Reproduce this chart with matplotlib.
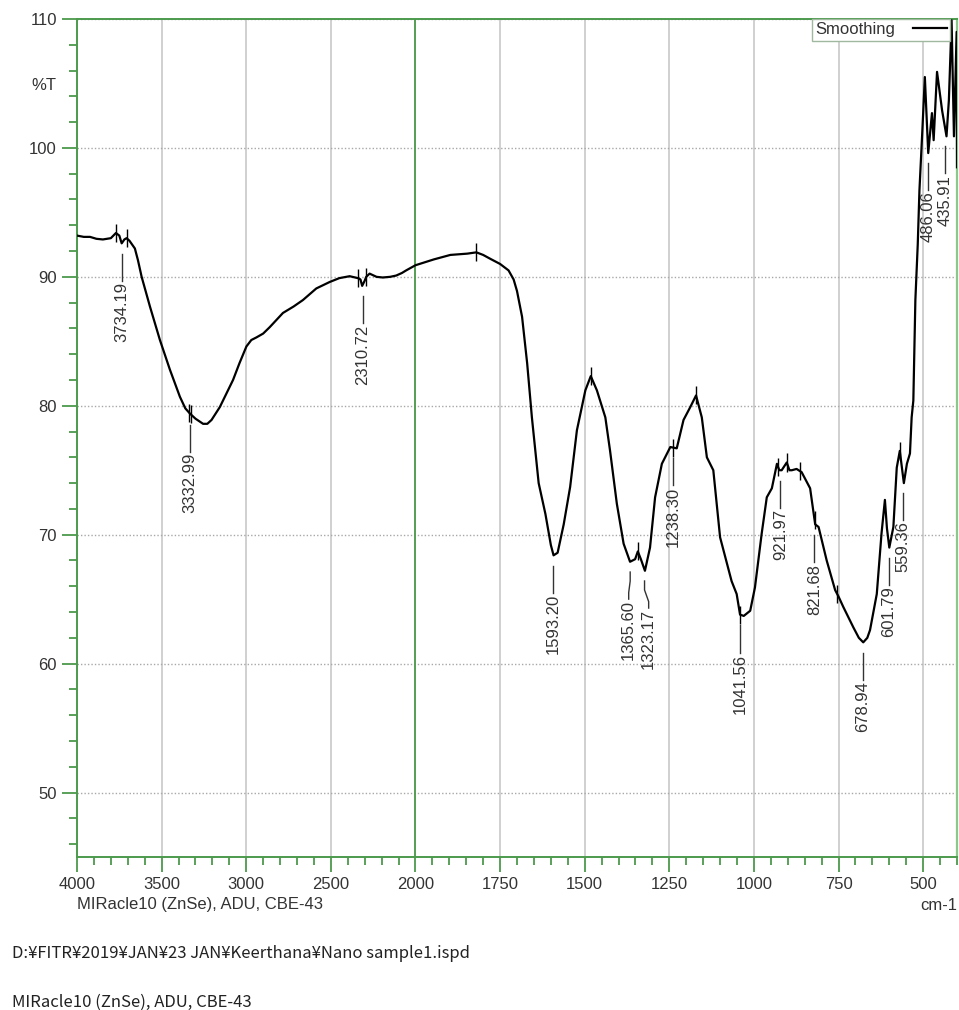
import numpy as np
import matplotlib.pyplot as plt
from matplotlib.ticker import FixedLocator, NullFormatter

plt.rcParams['font.family'] = ['Liberation Sans', 'DejaVu Sans']

# spectre IR lissé : nombre d'onde (cm-1) et transmittance (%T)
wn = np.array([4000, 3960, 3923, 3885, 3847, 3800, 3770, 3750, 3736, 3720, 3707, 3690,
               3658, 3640, 3618, 3569, 3510, 3451, 3392, 3360, 3333, 3300, 3255, 3230,
               3205, 3156, 3078, 3040, 2999, 2970, 2940, 2900, 2861, 2783, 2720, 2665,
               2586, 2507, 2450, 2389, 2340, 2325, 2315, 2300, 2291, 2271, 2230, 2193,
               2150, 2114, 2080, 2055, 2000, 1946, 1897, 1847, 1820, 1800, 1779, 1750,
               1725, 1710, 1700, 1685, 1670, 1656, 1636, 1616, 1600, 1592, 1580, 1562,
               1543, 1523, 1498, 1482, 1464, 1439, 1425, 1405, 1385, 1366, 1351, 1343,
               1334, 1322, 1307, 1292, 1272, 1247, 1228, 1208, 1188, 1171, 1154, 1139,
               1120, 1100, 1066, 1051, 1041, 1030, 1011, 997, 977, 962, 947, 932,
               925, 918, 903, 895, 888, 874, 859, 834, 819, 809, 785, 760,
               750, 736, 706, 690, 677, 665, 657, 637, 623, 613, 607, 600,
               588, 578, 569, 557, 548, 539, 534, 529, 523, 516, 511, 503,
               495, 485, 474, 469, 459, 444, 431, 424, 416, 409, 401, 400])
tr = np.array([93.2, 93.1, 93.1, 92.95, 92.9, 93.0, 93.4, 93.2, 92.6, 92.9, 93.0, 92.8,
               92.2, 91.3, 90.0, 87.7, 85.1, 82.8, 80.7, 79.8, 79.4, 79.0, 78.6, 78.6,
               78.9, 79.9, 82.0, 83.3, 84.6, 85.1, 85.3, 85.6, 86.1, 87.2, 87.7, 88.2,
               89.1, 89.6, 89.9, 90.05, 89.9, 89.8, 89.3, 89.7, 90.0, 90.25, 90.0, 89.95,
               90.0, 90.1, 90.3, 90.5, 90.9, 91.35, 91.7, 91.8, 91.9, 91.7, 91.4, 91.0,
               90.5, 89.8, 88.9, 86.9, 83.3, 79.1, 74.0, 71.6, 69.2, 68.4, 68.6, 70.8,
               73.7, 78.1, 81.2, 82.3, 81.2, 79.1, 76.5, 72.4, 69.3, 67.9, 68.1, 68.7,
               68.1, 67.2, 69.0, 72.9, 75.5, 76.8, 76.7, 78.9, 79.9, 80.8, 79.1, 76.0,
               75.0, 69.8, 66.4, 65.4, 63.8, 63.7, 64.1, 65.9, 70.1, 72.9, 73.6, 75.5,
               75.0, 75.0, 75.6, 75.0, 75.0, 75.1, 74.85, 73.6, 70.8, 70.6, 68.0, 65.7,
               65.2, 64.4, 62.8, 62.0, 61.65, 62.0, 62.6, 65.4, 70.1, 72.7, 70.5, 69.0,
               70.6, 75.2, 76.5, 74.0, 75.5, 76.3, 79.1, 80.4, 88.2, 92.5, 96.7, 101.0,
               105.5, 99.6, 102.7, 100.6, 105.9, 102.9, 100.9, 103.7, 109.9, 100.9, 109.0, 98.5])

# pics annotés et petits repères verticaux
pics = [3734.19, 3332.99, 2310.72, 1593.20, 1365.60, 1323.17, 1238.30, 1041.56,
        921.97, 821.68, 678.94, 601.79, 559.36, 486.06, 435.91]
reperes = [3770, 3707, 3338, 3328, 2340, 2291, 1820, 1482, 1343, 1238, 1171,
           1041, 929, 903, 864, 821, 754, 569]

ticks_maj = [4000, 3500, 3000, 2500, 2000, 1750, 1500, 1250, 1000, 750, 500]
ticks_min = list(range(4000, 2000, -100)) + list(range(2000, 399, -50))

vert = '#4c9a4c'
gris = '#333333'


# échelle dilatée x2 en dessous de 2000 cm-1
def fwd(x):
    x = np.asarray(x, dtype=float)
    return np.where(x >= 2000, 2000 + (x - 2000) / 2, x)


def inv(y):
    y = np.asarray(y, dtype=float)
    return np.where(y >= 2000, 2000 + 2 * (y - 2000), y)


W, H = 959, 1010
fig = plt.figure(figsize=(W / 100, H / 100), dpi=100)
ax = fig.add_axes([77 / W, 1 - 857 / H, 880 / W, 838 / H])
ax.set_xscale('function', functions=(fwd, inv))
ax.set_xlim(4000, 400)
ax.set_ylim(45, 110)

ax.plot(wn, tr, color='black', lw=1.6, label='Smoothing', zorder=3)

# repères sur la courbe
x_inc, y_inc = wn[::-1], tr[::-1]
for m in reperes:
    y = np.interp(m, x_inc, y_inc)
    ax.vlines(m, y - 0.7, y + 0.7, color='black', lw=1, zorder=3)

# étiquettes des pics, verticales, avec trait de rappel
decal = {1365.60: 1370.0, 1323.17: 1311.0}
for p in pics:
    fen = np.linspace(p - 5, p + 5, 41)
    y0 = np.interp(fen, x_inc, y_inc).min() - 0.8
    y1 = y0 - 2.1
    xt = decal.get(p, p)
    if xt != p:
        ax.plot([p, p, xt, xt], [y0, y0 - 0.7, y1 + 0.5, y1], color=gris, lw=1, zorder=3)
    else:
        ax.plot([p, p], [y0, y1], color=gris, lw=1, zorder=3)
    ax.text(xt, y1 - 0.1, f'{p:.2f}', rotation=90, ha='center', va='top',
            fontsize=12, color=gris, zorder=4)

# grilles
ax.set_axisbelow(True)
ax.xaxis.set_major_locator(FixedLocator(ticks_maj))
ax.xaxis.set_minor_locator(FixedLocator(ticks_min))
ax.xaxis.set_minor_formatter(NullFormatter())
ax.set_xticklabels([str(t) for t in ticks_maj])
ax.yaxis.set_major_locator(FixedLocator(np.arange(50, 111, 10)))
ax.yaxis.set_minor_locator(FixedLocator(np.arange(46, 110, 2)))
ax.xaxis.grid(True, color='#c8c8c8', lw=1.2, ls='-')
ax.yaxis.grid(True, color='#a8a8a8', lw=1, ls=(0, (1, 1.5)))
ax.axvline(2000, color=vert, lw=1.3, zorder=2)

for s in ['left', 'bottom', 'top']:
    ax.spines[s].set_color(vert)
    ax.spines[s].set_linewidth(1.4)
ax.spines['right'].set_color('#8cc88c')
ax.spines['right'].set_linewidth(1.6)

ax.tick_params(which='major', length=11, width=1.3, color=vert, pad=3.5,
               labelsize=12, labelcolor=gris)
ax.tick_params(which='minor', length=6, width=1.3, color=vert)

leg = ax.legend(loc='upper right', bbox_to_anchor=(1 - 7 / 880, 1), borderaxespad=0,
                markerfirst=False, fancybox=False, framealpha=1, fontsize=12,
                handlelength=2, handletextpad=1.1, borderpad=0.2, labelcolor=gris)
leg.get_frame().set_edgecolor('#a0b8a0')
leg.get_frame().set_linewidth(1)

# textes autour du graphique
fig.text(44 / W, 1 - 86 / H, '%T', ha='center', va='center', fontsize=12, color=gris)
fig.text(77 / W, 1 - 905 / H, 'MIRacle10 (ZnSe), ADU, CBE-43', ha='left', va='center',
         fontsize=12, color=gris)
fig.text(957 / W, 1 - 905 / H, 'cm-1', ha='right', va='center', fontsize=12, color=gris)
fig.text(12 / W, 1 - 953 / H, 'D:¥FITR¥2019¥JAN¥23 JAN¥Keerthana¥Nano sample1.ispd',
         ha='left', va='center', fontsize=12, color='#222222',
         family=['Noto Sans CJK JP', 'DejaVu Sans'])
fig.text(12 / W, 1 - 1002 / H, 'MIRacle10 (ZnSe), ADU, CBE-43',
         ha='left', va='center', fontsize=12, color='#222222',
         family=['Noto Sans CJK JP', 'DejaVu Sans'])

fig.savefig('out.png', dpi=100)
